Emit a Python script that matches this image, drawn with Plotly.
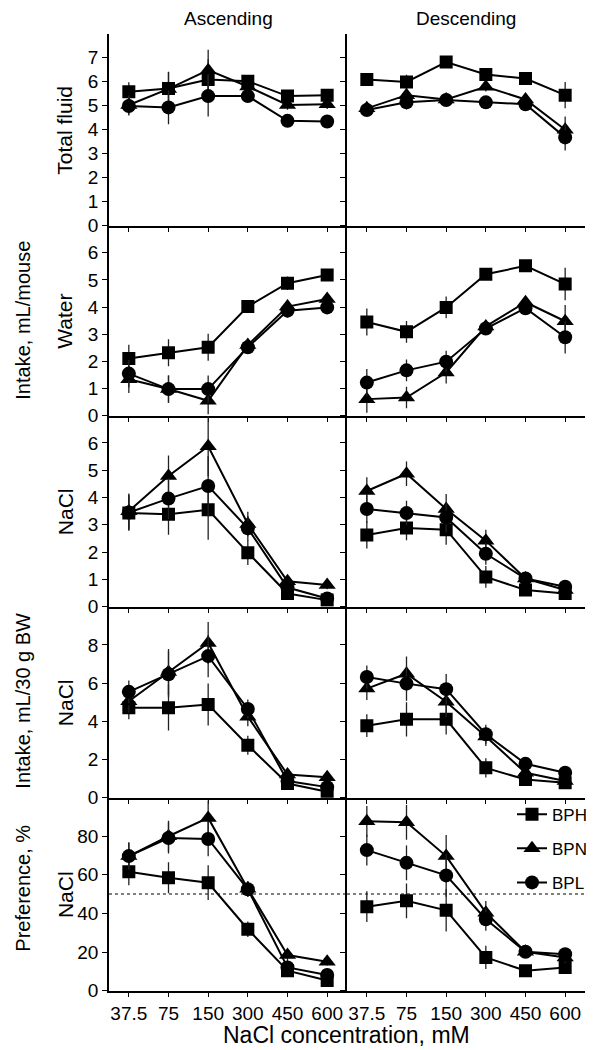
import plotly.graph_objects as go

# ---------------- data ----------------
conc = ["37.5", "75", "150", "300", "450", "600"]
groups = ["BPH", "BPN", "BPL"]
columns = ["Ascending", "Descending"]

# Row 1: Total fluid intake, mL/mouse
tot_asc_bph = [5.58, 5.72, 6.09, 6.02, 5.40, 5.44]
tot_asc_bpn = [5.03, 5.70, 6.48, 5.80, 5.03, 5.06]
tot_asc_bpl = [4.99, 4.93, 5.40, 5.40, 4.37, 4.34]
tot_desc_bph = [6.09, 5.99, 6.82, 6.30, 6.13, 5.44]
tot_desc_bpn = [4.89, 5.44, 5.26, 5.79, 5.26, 4.00]
tot_desc_bpl = [4.82, 5.14, 5.24, 5.14, 5.06, 3.68]
tot_asc_err = [0.4, 0.7, 0.85, 0.2, 0.2, 0.2]
tot_desc_err = [0.2, 0.3, 0.25, 0.2, 0.25, 0.55]

# Row 2: Water intake, mL/mouse
wat_asc_bph = [2.11, 2.32, 2.52, 4.02, 4.88, 5.18]
wat_asc_bpn = [1.34, 0.98, 0.55, 2.60, 4.02, 4.30]
wat_asc_bpl = [1.55, 0.98, 0.98, 2.52, 3.87, 3.99]
wat_desc_bph = [3.45, 3.09, 3.99, 5.21, 5.52, 4.85]
wat_desc_bpn = [0.61, 0.67, 1.59, 3.29, 4.18, 3.48]
wat_desc_bpl = [1.22, 1.67, 1.99, 3.21, 3.96, 2.89]
wat_asc_err = [0.5, 0.5, 0.5, 0.2, 0.25, 0.2]
wat_desc_err = [0.5, 0.4, 0.4, 0.2, 0.2, 0.6]

# Row 3: NaCl intake, mL/mouse
nam_asc_bph = [3.43, 3.39, 3.55, 1.98, 0.48, 0.24]
nam_asc_bpn = [3.50, 4.79, 5.88, 3.03, 0.93, 0.79]
nam_asc_bpl = [3.45, 3.96, 4.42, 2.87, 0.70, 0.30]
nam_desc_bph = [2.63, 2.88, 2.82, 1.09, 0.61, 0.48]
nam_desc_bpn = [4.24, 4.87, 3.58, 2.42, 1.03, 0.61]
nam_desc_bpl = [3.58, 3.43, 3.27, 1.94, 1.03, 0.73]
nam_asc_err = [0.65, 0.75, 1.1, 0.45, 0.15, 0.15]
nam_desc_err = [0.5, 0.45, 0.55, 0.4, 0.15, 0.1]

# Row 4: NaCl intake, mL/30 g BW
nab_asc_bph = [4.71, 4.71, 4.88, 2.74, 0.74, 0.31]
nab_asc_bpn = [5.05, 6.58, 8.10, 4.24, 1.21, 1.07]
nab_asc_bpl = [5.54, 6.46, 7.41, 4.64, 0.87, 0.55]
nab_desc_bph = [3.77, 4.10, 4.10, 1.56, 0.95, 0.78]
nab_desc_bpn = [5.71, 6.49, 5.02, 3.20, 1.30, 0.87]
nab_desc_bpl = [6.32, 5.97, 5.68, 3.32, 1.77, 1.30]
nab_asc_err = [0.6, 1.2, 1.1, 0.5, 0.2, 0.2]
nab_desc_err = [0.6, 0.9, 0.8, 0.5, 0.2, 0.15]

# Row 5: NaCl preference, %
pre_asc_bph = [61.6, 58.5, 55.9, 31.8, 10.3, 5.2]
pre_asc_bpn = [69.7, 80.0, 89.5, 52.8, 18.4, 15.0]
pre_asc_bpl = [69.7, 79.1, 78.6, 52.5, 12.0, 8.1]
pre_desc_bph = [43.5, 46.5, 41.6, 17.2, 10.3, 12.0]
pre_desc_bpn = [87.7, 87.2, 69.7, 40.4, 20.1, 17.2]
pre_desc_bpl = [72.8, 66.2, 59.7, 37.0, 20.1, 18.9]
pre_asc_err = [7, 8, 9, 4, 3, 2]
pre_desc_err = [8, 9, 11, 6, 3, 3]
pref_ref = 50

row_labels = ["Total fluid", "Water", "NaCl", "NaCl", "NaCl"]
row_ranges = [[0, 8], [0, 7], [0, 7], [0, 10], [0, 100]]
row_ticks = [[0, 1, 2, 3, 4, 5, 6, 7], [0, 1, 2, 3, 4, 5, 6], [0, 1, 2, 3, 4, 5, 6],
             [0, 2, 4, 6, 8], [0, 20, 40, 60, 80]]

panels = [
    [(tot_asc_bph, tot_asc_bpn, tot_asc_bpl, tot_asc_err), (tot_desc_bph, tot_desc_bpn, tot_desc_bpl, tot_desc_err)],
    [(wat_asc_bph, wat_asc_bpn, wat_asc_bpl, wat_asc_err), (wat_desc_bph, wat_desc_bpn, wat_desc_bpl, wat_desc_err)],
    [(nam_asc_bph, nam_asc_bpn, nam_asc_bpl, nam_asc_err), (nam_desc_bph, nam_desc_bpn, nam_desc_bpl, nam_desc_err)],
    [(nab_asc_bph, nab_asc_bpn, nab_asc_bpl, nab_asc_err), (nab_desc_bph, nab_desc_bpn, nab_desc_bpl, nab_desc_err)],
    [(pre_asc_bph, pre_asc_bpn, pre_asc_bpl, pre_asc_err), (pre_desc_bph, pre_desc_bpn, pre_desc_bpl, pre_desc_err)],
]

# ---------------- style ----------------
W, H = 594, 1050
FONT = "Liberation Sans, Arial, sans-serif"
symbols = {"BPH": "square", "BPN": "triangle-up", "BPL": "circle"}
msize = {"BPH": 13, "BPN": 15, "BPL": 14}
col_px = [(101, 339), (339, 577)]
row_px = [(26, 220), (220, 412), (412, 605), (605, 798), (798, 993)]

def px_x(p):
    return p / W

def px_y(p):
    return 1 - p / H

fig = go.Figure()
layout = {}
for r in range(5):
    for c in range(2):
        idx = r * 2 + c + 1
        sfx = "" if idx == 1 else str(idx)
        xa, ya = "x" + sfx, "y" + sfx
        bph, bpn, bpl, err = panels[r][c]
        for g, vals in zip(groups, [bph, bpn, bpl]):
            fig.add_trace(go.Scatter(
                x=conc, y=vals, xaxis=xa, yaxis=ya,
                mode="lines+markers", name=g,
                legendgroup=g,
                showlegend=(r == 4 and c == 1),
                line=dict(color="black", width=2),
                marker=dict(symbol=symbols[g], size=msize[g], color="black"),
                error_y=dict(type="data", array=err, visible=True,
                             color="#222", thickness=1.3, width=0),
            ))
        layout["xaxis" + sfx] = dict(
            domain=[px_x(col_px[c][0]), px_x(col_px[c][1])],
            anchor=ya, type="category", range=[-0.5, 5.5],
            showline=True, linecolor="black", linewidth=1.5,
            ticks="outside", ticklen=5, tickwidth=1.3, tickcolor="black",
            showticklabels=(r == 4), showgrid=False, zeroline=False,
            tickfont=dict(family=FONT, size=19, color="black"),
        )
        layout["yaxis" + sfx] = dict(
            domain=[px_y(row_px[r][1]), px_y(row_px[r][0])],
            anchor=xa, range=row_ranges[r], tickvals=row_ticks[r],
            showline=True, linecolor="black", linewidth=1.5,
            ticks="outside", ticklen=5, tickwidth=1.3, tickcolor="black",
            showticklabels=(c == 0), showgrid=False, zeroline=False,
            tickfont=dict(family=FONT, size=19, color="black"),
        )
        if r == 4:
            fig.add_shape(type="line", xref=xa, yref=ya, x0=-0.5, x1=5.5,
                          y0=pref_ref, y1=pref_ref,
                          line=dict(color="#555", width=1.5, dash="dot"), layer="below")

annotations = []
for c, title in enumerate(columns):
    annotations.append(dict(text=title, x=px_x((col_px[c][0] + col_px[c][1]) / 2), y=px_y(11),
                            xref="paper", yref="paper", showarrow=False,
                            xanchor="center", yanchor="middle",
                            font=dict(family=FONT, size=19, color="black")))
for r, lab in enumerate(row_labels):
    annotations.append(dict(text=lab, x=px_x(57), y=px_y((row_px[r][0] + row_px[r][1]) / 2),
                            xref="paper", yref="paper", showarrow=False, textangle=-90,
                            xanchor="center", yanchor="middle",
                            font=dict(family=FONT, size=21, color="black")))
outer = [("Intake, mL/mouse", 316), ("Intake, mL/30 g BW", 700), ("Preference, %", 890)]
for lab, yc in outer:
    annotations.append(dict(text=lab, x=px_x(15), y=px_y(yc),
                            xref="paper", yref="paper", showarrow=False, textangle=-90,
                            xanchor="center", yanchor="middle",
                            font=dict(family=FONT, size=20, color="black")))
annotations.append(dict(text="NaCl concentration, mM", x=px_x(338), y=px_y(1038),
                        xref="paper", yref="paper", showarrow=False,
                        xanchor="center", yanchor="middle",
                        font=dict(family=FONT, size=23, color="black")))

fig.update_layout(
    width=W, height=H,
    margin=dict(l=0, r=0, t=0, b=0),
    paper_bgcolor="white", plot_bgcolor="white",
    annotations=annotations,
    legend=dict(x=px_x(504), y=px_y(797), xanchor="left", yanchor="top",
                bgcolor="rgba(0,0,0,0)", font=dict(family=FONT, size=17, color="black"),
                traceorder="grouped", tracegroupgap=9, itemwidth=30),
    **layout,
)

fig.write_html("out.html")
